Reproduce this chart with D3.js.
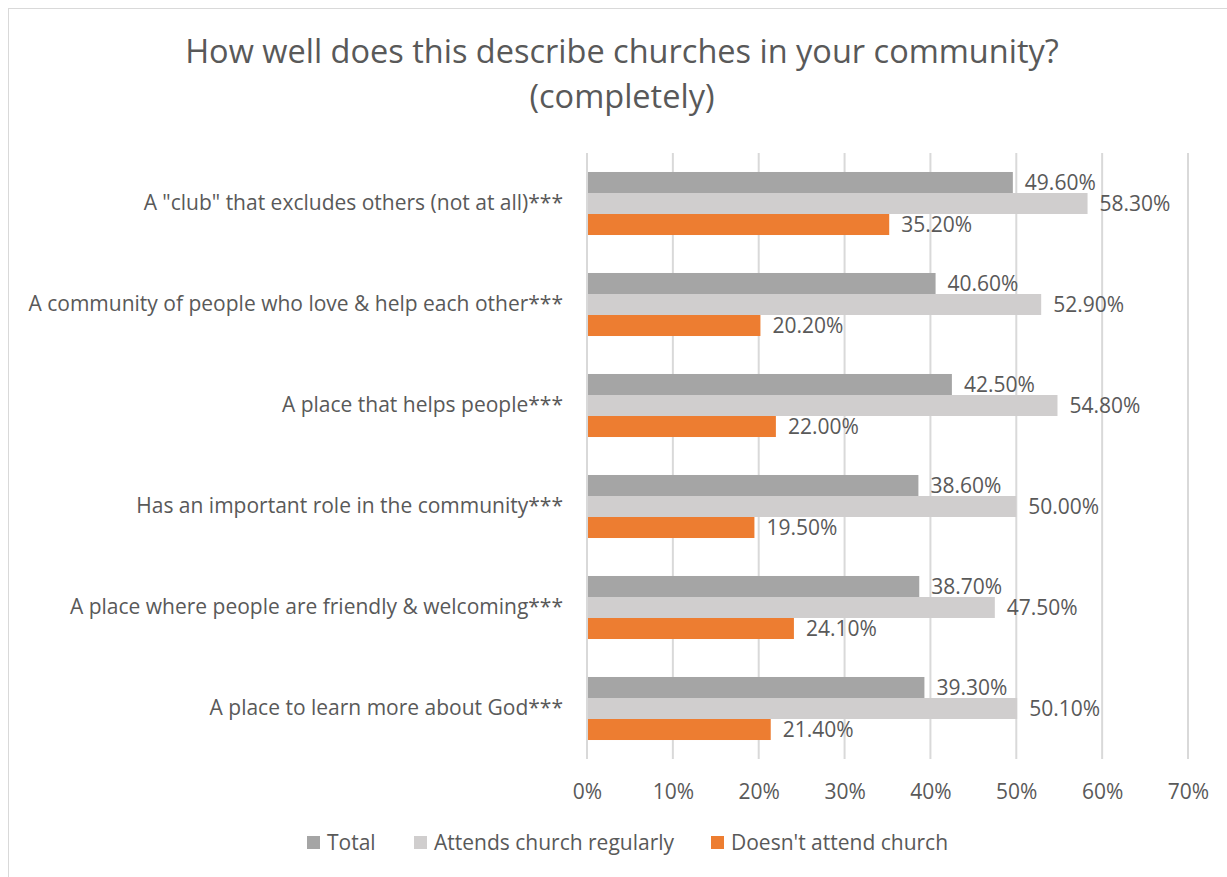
<!DOCTYPE html>
<html>
<head>
<meta charset="utf-8">
<script src="https://cdn.jsdelivr.net/npm/d3@7"></script>
<style>
  html, body { margin: 0; padding: 0; background: #ffffff; }
  svg { display: block; font-family: "Open Sans", "Noto Sans", sans-serif; }
</style>
</head>
<body>
<svg id="chart" width="1227" height="877"></svg>
<script>
// Survey categories, top to bottom
const categories = [
  'A "club" that excludes others (not at all)***',
  'A community of people who love & help each other***',
  'A place that helps people***',
  'Has an important role in the community***',
  'A place where people are friendly & welcoming***',
  'A place to learn more about God***'
];

// Share answering "completely", in percent
const total = [49.6, 40.6, 42.5, 38.6, 38.7, 39.3];
const attendsRegularly = [58.3, 52.9, 54.8, 50.0, 47.5, 50.1];
const doesntAttend = [35.2, 20.2, 22.0, 19.5, 24.1, 21.4];

const seriesNames = ["Total", "Attends church regularly", "Doesn't attend church"];
const seriesColors = ["#a5a5a5", "#d0cece", "#ed7d31"];
const xTicks = [0, 10, 20, 30, 40, 50, 60, 70];

const seriesValues = [total, attendsRegularly, doesntAttend];
const rows = categories.map((c, i) => ({
  category: c,
  values: seriesValues.map((s, k) => ({ key: seriesNames[k], value: s[i], k }))
}));

const svg = d3.select("#chart");
const textColor = "#595959";
const fontSize = 21;

// Chart frame
svg.append("rect")
  .attr("x", 8.5).attr("y", 8.5)
  .attr("width", 1240).attr("height", 900)
  .attr("fill", "#ffffff")
  .attr("stroke", "#d9d9d9").attr("stroke-width", 1);

// Title
const title = svg.append("text")
  .attr("text-anchor", "middle")
  .attr("fill", textColor)
  .attr("font-size", 32.5);
title.append("tspan").attr("x", 622).attr("y", 63)
  .text("How well does this describe churches in your community?");
title.append("tspan").attr("x", 622).attr("y", 108)
  .text("(completely)");

const plot = { left: 587, right: 1188, top: 153, bottom: 759 };

const x = d3.scaleLinear().domain([0, 70]).range([plot.left, plot.right]);
const y0 = d3.scaleBand().domain(categories).range([plot.top, plot.bottom])
  .paddingInner(0.376).paddingOuter(0.188);
const y1 = d3.scaleBand().domain(seriesNames).range([0, y0.bandwidth()]);

// Vertical gridlines
svg.append("g")
  .selectAll("line")
  .data(xTicks)
  .join("line")
  .attr("x1", d => x(d)).attr("x2", d => x(d))
  .attr("y1", plot.top).attr("y2", plot.bottom)
  .attr("stroke", "#d9d9d9").attr("stroke-width", 2);

// X axis tick labels
const xAxis = d3.axisBottom(x).tickValues(xTicks).tickFormat(d => d + "%").tickSize(0).tickPadding(0);
const gx = svg.append("g").attr("transform", `translate(0, ${plot.bottom + 40})`).call(xAxis);
gx.select(".domain").remove();
gx.selectAll("text").attr("fill", textColor).attr("font-size", fontSize)
  .attr("font-family", '"Open Sans", "Noto Sans", sans-serif')
  .attr("dy", "0");

// Category labels
const yAxis = d3.axisLeft(y0).tickSize(0).tickPadding(24);
const gy = svg.append("g").attr("transform", `translate(${plot.left}, 0)`).call(yAxis);
gy.select(".domain").remove();
gy.selectAll("text").attr("fill", textColor).attr("font-size", fontSize)
  .attr("font-family", '"Open Sans", "Noto Sans", sans-serif');

// Bars
const groups = svg.append("g")
  .selectAll("g")
  .data(rows)
  .join("g")
  .attr("transform", d => `translate(0, ${y0(d.category)})`);

groups.selectAll("rect")
  .data(d => d.values)
  .join("rect")
  .attr("x", x(0) + 1)
  .attr("y", d => y1(d.key))
  .attr("width", d => x(d.value) - x(0) - 1)
  .attr("height", y1.bandwidth())
  .attr("fill", d => seriesColors[d.k]);

// Value labels
groups.selectAll("text")
  .data(d => d.values)
  .join("text")
  .attr("x", d => x(d.value) + 12)
  .attr("y", d => y1(d.key) + y1.bandwidth() / 2)
  .attr("dy", "0.35em")
  .attr("fill", textColor)
  .attr("font-size", fontSize)
  .text(d => d.value.toFixed(2) + "%");

// Legend
const legendItems = [
  { name: seriesNames[0], color: seriesColors[0], x: 307 },
  { name: seriesNames[1], color: seriesColors[1], x: 414 },
  { name: seriesNames[2], color: seriesColors[2], x: 711 }
];
const legend = svg.append("g").attr("transform", "translate(0, 843)");
const li = legend.selectAll("g").data(legendItems).join("g")
  .attr("transform", d => `translate(${d.x}, 0)`);
li.append("rect").attr("x", 0).attr("y", -7).attr("width", 13).attr("height", 13)
  .attr("fill", d => d.color);
li.append("text").attr("x", 20).attr("y", 0).attr("dy", "0.35em")
  .attr("fill", textColor).attr("font-size", fontSize)
  .text(d => d.name);
</script>
</body>
</html>
